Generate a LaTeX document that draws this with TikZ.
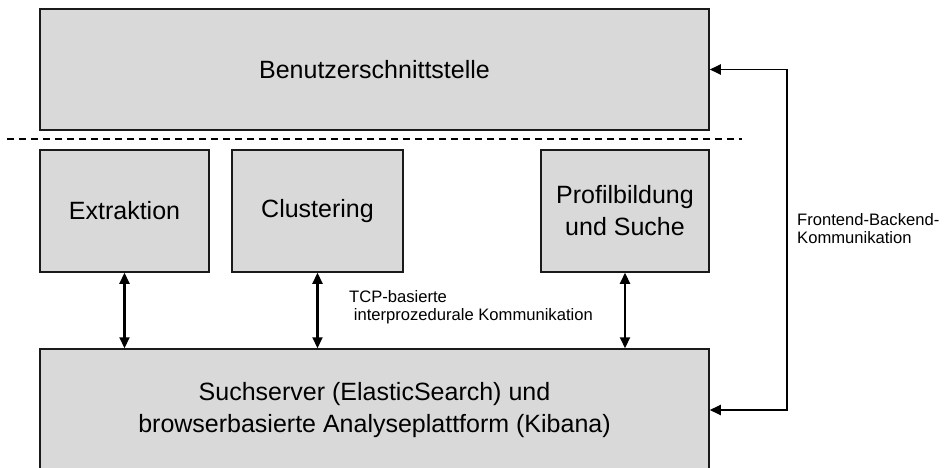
\documentclass[tikz,border=0pt]{standalone}
\usepackage{fontspec}
\setmainfont{Liberation Sans}
\usetikzlibrary{arrows.meta}
\definecolor{boxfill}{HTML}{D9D9D9}
\definecolor{boxline}{HTML}{1A1A1A}
\begin{document}
\begin{tikzpicture}[x=1pt,y=-1pt,
  block/.style={draw=boxline,fill=boxfill,line width=1.5pt,inner sep=0pt,align=center,
    font=\fontsize{25}{32}\selectfont},
  conn/.style={line width=2.2pt,{Triangle[length=11pt,width=10pt]}-{Triangle[length=11pt,width=10pt]}},
  fbconn/.style={line width=1.8pt,{Triangle[length=11pt,width=10pt]}-{Triangle[length=11pt,width=10pt]}},
  lbl/.style={font=\fontsize{16.6}{18.5}\selectfont,align=left,inner sep=0pt,anchor=north west}]
\useasboundingbox (0,0) rectangle (945,468);
\fill[white] (0,0) rectangle (945,468);
\node[block,minimum width=669pt,minimum height=121pt] (ui) at (374.5,69.5) {Benutzerschnittstelle};
\node[block,minimum width=169pt,minimum height=122pt] (ex) at (124.5,211) {Extraktion};
\node[block,minimum width=171pt,minimum height=122pt] (cl) at (317.5,211) {Clustering};
\node[block,minimum width=168pt,minimum height=122pt] (pr) at (625,211) {Profilbildung\\und Suche};
\node[block,minimum width=669pt,minimum height=122pt] (ss) at (374.5,410) {Suchserver (ElasticSearch) und\\browserbasierte Analyseplattform (Kibana)};
\coordinate (dl) at (7,139);
\coordinate (dr) at (742,139);
\draw[line width=1.1pt,dash pattern=on 7pt off 5pt] (dl) -- (dr);
\draw[conn] (ex.south) -- (ex.south |- ss.north);
\draw[conn] (cl.south) -- (cl.south |- ss.north);
\draw[conn] (pr.south) -- (pr.south |- ss.north);
\draw[fbconn] (ui.east) -- ++(77,0) |- (ss.east);
\node[lbl] (fb) at (797,213) {Frontend-Backend-\\Kommunikation};
\node[lbl] (tcp) at (349,290) {TCP-basierte\\\hspace*{0.28em}interprozedurale Kommunikation};
\end{tikzpicture}
\end{document}
